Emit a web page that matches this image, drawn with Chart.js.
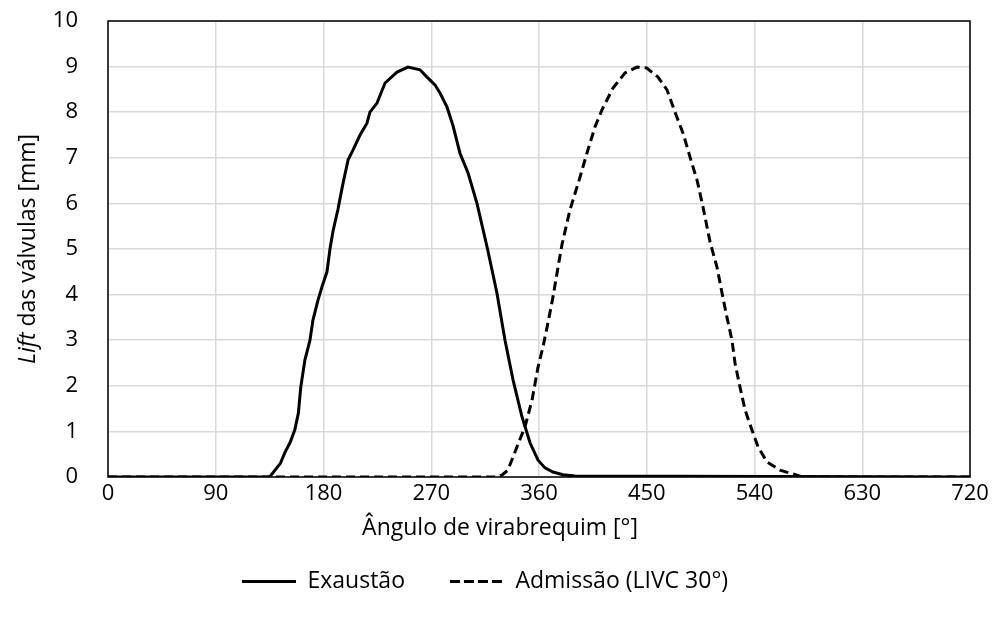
<!DOCTYPE html>
<html>
<head>
<meta charset="utf-8">
<script src="https://cdn.jsdelivr.net/npm/chart.js@4.4.1/dist/chart.umd.min.js"></script>
<style>
  html, body { margin: 0; padding: 0; background: #fff; }
  #wrap { width: 997px; height: 624px; }
</style>
</head>
<body>
<div id="wrap"><canvas id="liftChart" width="997" height="624"></canvas></div>
<script>
// Valve lift profiles, crank angle in degrees, lift in mm
const exhaustAngle = [0, 135, 144, 148, 152, 156, 159, 161, 164.5, 168.7, 171.2, 175.4, 178.7, 182.9, 185.4, 188, 192, 196, 200.5, 204.6, 210.5, 216.3, 218.8, 224.7, 231.4, 241.4, 250.6, 260.6, 266.5, 273.1, 277.3, 283.2, 288.2, 294, 300.7, 308.2, 317, 324.9, 331.6, 338.3, 345.8, 352.5, 359.2, 365, 371.7, 380, 390, 720];
const exhaustLift  = [0, 0, 0.3, 0.55, 0.75, 1.03, 1.4, 1.97, 2.57, 3.0, 3.44, 3.88, 4.17, 4.5, 5.0, 5.4, 5.86, 6.4, 6.95, 7.17, 7.5, 7.76, 8.0, 8.2, 8.64, 8.88, 8.99, 8.93, 8.77, 8.6, 8.42, 8.11, 7.7, 7.1, 6.67, 6.0, 5.0, 4.03, 3.0, 2.13, 1.32, 0.75, 0.37, 0.2, 0.11, 0.05, 0.02, 0];

const intakeAngle = [0, 321.6, 329, 334, 341.6, 348.3, 354.2, 359.2, 363.3, 367.5, 371.7, 375.9, 379.2, 385.9, 394.3, 400, 406.8, 412.6, 421.8, 431.8, 441.9, 450, 459.4, 466.9, 473.6, 480.3, 486.1, 492, 497, 502.9, 508.7, 512.9, 517, 521.2, 523.7, 527.9, 532.1, 537.9, 543, 550.4, 561.3, 575.5, 580, 720];
const intakeLift  = [0, 0, 0.04, 0.15, 0.66, 1.1, 1.69, 2.41, 2.85, 3.38, 3.95, 4.6, 5.1, 5.86, 6.58, 7.1, 7.68, 8.05, 8.53, 8.86, 8.99, 8.97, 8.77, 8.49, 8.0, 7.54, 7.02, 6.51, 5.92, 5.15, 4.6, 4.03, 3.5, 3.0, 2.5, 1.97, 1.47, 1.03, 0.66, 0.33, 0.15, 0.04, 0, 0];

const seriesNames = ['Exaustão', 'Admissão (LIVC 30°)'];
const xTicks = [0, 90, 180, 270, 360, 450, 540, 630, 720];
const yTicks = [0, 1, 2, 3, 4, 5, 6, 7, 8, 9, 10];
const xTitle = 'Ângulo de virabrequim [°]';
const yTitleItalic = 'Lift';
const yTitleRest = ' das válvulas [mm]';

const FONT = '"Open Sans", sans-serif';
const TITLE_SIZE = 23;

function toPoints(xs, ys) {
  return xs.map((x, i) => ({ x: x, y: ys[i] }));
}

// frame around the plot area, plus both axis titles (the y one has an italic word)
const plotFrame = {
  id: 'plotFrame',
  afterDatasetsDraw(chart) {
    const { ctx, chartArea: a } = chart;
    ctx.save();
    ctx.strokeStyle = '#000';
    ctx.lineWidth = 1.5;
    ctx.strokeRect(a.left, a.top, a.right - a.left, a.bottom - a.top);
    ctx.restore();
  },
  afterDraw(chart) {
    const { ctx, chartArea: a } = chart;
    ctx.save();
    ctx.fillStyle = '#000';
    ctx.textBaseline = 'middle';

    // x title
    ctx.font = TITLE_SIZE + 'px ' + FONT;
    ctx.textAlign = 'center';
    ctx.fillText(xTitle, 500, a.bottom + 51);

    // y title
    ctx.textAlign = 'left';
    ctx.translate(28, (a.top + a.bottom) / 2);
    ctx.rotate(-Math.PI / 2);
    ctx.font = 'italic ' + TITLE_SIZE + 'px ' + FONT;
    const w1 = ctx.measureText(yTitleItalic).width;
    ctx.font = TITLE_SIZE + 'px ' + FONT;
    const w2 = ctx.measureText(yTitleRest).width;
    const x0 = -(w1 + w2) / 2;
    ctx.font = 'italic ' + TITLE_SIZE + 'px ' + FONT;
    ctx.fillText(yTitleItalic, x0, 0);
    ctx.font = TITLE_SIZE + 'px ' + FONT;
    ctx.fillText(yTitleRest, x0 + w1, 0);
    ctx.restore();
  }
};

const ctx = document.getElementById('liftChart').getContext('2d');
new Chart(ctx, {
  type: 'scatter',
  data: {
    datasets: [
      {
        label: seriesNames[0],
        data: toPoints(exhaustAngle, exhaustLift),
        showLine: true,
        borderColor: '#000',
        backgroundColor: 'rgba(0,0,0,0)',
        borderWidth: 3,
        pointRadius: 0,
        tension: 0
      },
      {
        label: seriesNames[1],
        data: toPoints(intakeAngle, intakeLift),
        showLine: true,
        borderColor: '#000',
        backgroundColor: 'rgba(0,0,0,0)',
        borderWidth: 3,
        borderDash: [9, 5],
        pointRadius: 0,
        tension: 0
      }
    ]
  },
  options: {
    responsive: false,
    animation: false,
    layout: { padding: { top: 21, right: 27, left: 0, bottom: 25 } },
    plugins: {
      tooltip: { enabled: false },
      legend: {
        position: 'bottom',
        maxHeight: 74,
        labels: {
          boxWidth: 54,
          boxHeight: 0,
          padding: 45,
          color: '#000',
          font: { family: FONT, size: TITLE_SIZE }
        }
      }
    },
    scales: {
      x: {
        type: 'linear',
        min: 0,
        max: 720,
        afterBuildTicks(scale) {
          scale.ticks = xTicks.map(v => ({ value: v }));
        },
        afterFit(scale) { scale.height = 48; },
        grid: { color: '#d9d9d9', lineWidth: 1.5, drawTicks: false },
        border: { display: false },
        ticks: { color: '#000', padding: 4, maxRotation: 0, font: { family: FONT, size: 22 } }
      },
      y: {
        type: 'linear',
        min: 0,
        max: 10,
        afterBuildTicks(scale) {
          scale.ticks = yTicks.map(v => ({ value: v }));
        },
        afterFit(scale) {
          scale.width = 108;
          // the wide label gap should not push the plot down
          scale.paddingTop = 12;
          scale.paddingBottom = 12;
        },
        grid: { color: '#d9d9d9', lineWidth: 1.5, drawTicks: false },
        border: { display: false },
        ticks: { color: '#000', padding: 30, font: { family: FONT, size: 22 } }
      }
    }
  },
  plugins: [plotFrame]
});
</script>
</body>
</html>
